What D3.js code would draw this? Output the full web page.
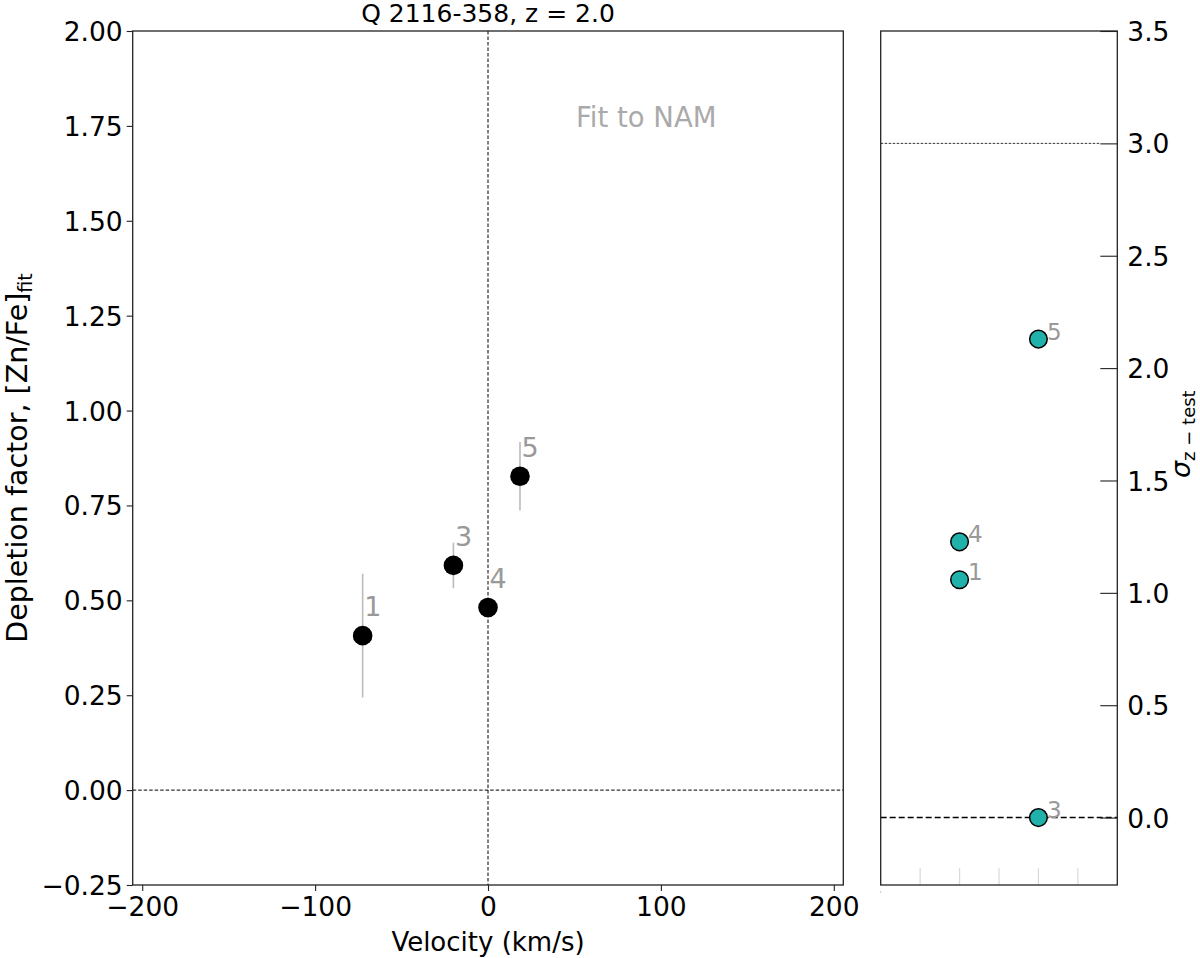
<!DOCTYPE html>
<html><head><meta charset="utf-8">
<script src="https://cdn.jsdelivr.net/npm/d3@7"></script>
<style>
body{margin:0;background:#fff;}
text{font-family:"DejaVu Sans",sans-serif;}
</style></head>
<body>
<svg id="c" width="1200" height="958"></svg>
<script>
// ---- data ----
const componentIds = ["1","3","4","5"];
const velocities = [-72.5, -20, 0, 18.5];
const depletion = [0.407, 0.592, 0.481, 0.827];
const depletionErr = [0.163, 0.06, 0, 0.09];
const sideX = [2, 4, 2, 4];
const sigmaZ = [1.058, 0.0, 1.227, 2.129];
const mainXTicks = [-200, -100, 0, 100, 200];
const mainYTicks = [-0.25, 0, 0.25, 0.5, 0.75, 1.0, 1.25, 1.5, 1.75, 2.0];
const sideYTicks = [0, 0.5, 1.0, 1.5, 2.0, 2.5, 3.0, 3.5];
const sideXTicks = [1, 2, 3, 4, 5];

const svg = d3.select("#c");
const M = {l:132.7, r:843.3, t:31, b:885};
const S = {l:880.7, r:1117.3, t:31, b:885};

const x = d3.scaleLinear().domain([-205.5, 205.5]).range([M.l, M.r]);
const y = d3.scaleLinear().domain([-0.25, 2.0]).range([M.b, M.t]);
const xs = d3.scaleLinear().domain([0, 6]).range([S.l, S.r]);
const ys = d3.scaleLinear().domain([-0.3, 3.5]).range([S.b, S.t]);

const tickFont = "26.5px";

// main reference lines
svg.append("line").attr("x1", x(0)).attr("x2", x(0)).attr("y1", M.t).attr("y2", M.b)
  .attr("stroke","#000").attr("stroke-width",1).attr("stroke-dasharray","3.5,2");
svg.append("line").attr("x1", M.l).attr("x2", M.r).attr("y1", y(0)).attr("y2", y(0))
  .attr("stroke","#000").attr("stroke-width",1).attr("stroke-dasharray","3.5,2");

// error bars
const idx = d3.range(componentIds.length);
svg.append("g").selectAll("line").data(idx.filter(i=>depletionErr[i]>0)).join("line")
  .attr("x1", i=>x(velocities[i])).attr("x2", i=>x(velocities[i]))
  .attr("y1", i=>y(depletion[i]-depletionErr[i])).attr("y2", i=>y(depletion[i]+depletionErr[i]))
  .attr("stroke","#bbbbbb").attr("stroke-width",1.6);
// points
svg.append("g").selectAll("circle").data(idx).join("circle")
  .attr("cx", i=>x(velocities[i])).attr("cy", i=>y(depletion[i])).attr("r", 9.8).attr("fill","#000");
// labels
svg.append("g").selectAll("text").data(idx).join("text")
  .attr("x", i=>x(velocities[i])+1.5).attr("y", i=>y(depletion[i])-19.5)
  .attr("fill","#999").style("font-size","27px").text(i=>componentIds[i]);

svg.append("text").attr("x", 576).attr("y", 126.5).attr("fill","#aaa").style("font-size","27.5px").text("Fit to NAM");

// main axes
const gx = svg.append("g").attr("transform",`translate(0,${M.b})`)
  .call(d3.axisBottom(x).tickValues(mainXTicks).tickSize(6).tickSizeOuter(0)
    .tickFormat(d=>d<0?"\u2212"+Math.abs(d):d));
const gy = svg.append("g").attr("transform",`translate(${M.l},0)`)
  .call(d3.axisLeft(y).tickValues(mainYTicks).tickSize(6).tickSizeOuter(0)
    .tickFormat(d=>(d<0?"\u2212":"")+Math.abs(d).toFixed(2)));
[gx,gy].forEach(g=>{
  g.select(".domain").remove();
  g.selectAll("line").attr("stroke","#222").attr("stroke-width",1.1);
  g.selectAll("text").style("font-size",tickFont).attr("fill","#000").style("font-family","DejaVu Sans");
});
gx.selectAll("text").attr("dy","0.95em").attr("y",6);
gy.selectAll("text").attr("x",-10).attr("dy","0.36em");
svg.append("rect").attr("x",M.l).attr("y",M.t).attr("width",M.r-M.l).attr("height",M.b-M.t)
  .attr("fill","none").attr("stroke","#222").attr("stroke-width",1.3);

// title & labels
svg.append("text").attr("x", x(0)).attr("y", 22).attr("text-anchor","middle").style("font-size","25px").text("Q 2116-358, z = 2.0");
svg.append("text").attr("x", x(0)).attr("y", 951).attr("text-anchor","middle").style("font-size","26px").text("Velocity (km/s)");
const yl = svg.append("text").attr("transform",`translate(27,${(M.t+M.b)/2}) rotate(-90)`).attr("text-anchor","middle").style("font-size","28.5px");
yl.append("tspan").text("Depletion factor, [Zn/Fe]");
yl.append("tspan").attr("dy",5).style("font-size","19px").text("fit");

// side panel
svg.append("line").attr("x1",S.l).attr("x2",S.r-17).attr("y1",ys(3)).attr("y2",ys(3))
  .attr("stroke","#000").attr("stroke-width",0.8).attr("stroke-dasharray","2.5,1.5");
svg.append("line").attr("x1",S.l).attr("x2",S.r).attr("y1",ys(0)).attr("y2",ys(0))
  .attr("stroke","#000").attr("stroke-width",1.5).attr("stroke-dasharray","6,3");
// light x ticks
svg.append("g").selectAll("line").data(sideXTicks).join("line")
  .attr("x1",d=>xs(d)).attr("x2",d=>xs(d)).attr("y1",S.b).attr("y2",S.b-17)
  .attr("stroke","#d9d9d9").attr("stroke-width",1.2);
svg.append("circle").attr("cx",S.l).attr("cy",S.b+7).attr("r",0.8).attr("fill","#bbb");

svg.append("g").selectAll("circle").data(idx).join("circle")
  .attr("cx",i=>xs(sideX[i])).attr("cy",i=>ys(sigmaZ[i])).attr("r",8.8)
  .attr("fill","#20b2aa").attr("stroke","#000").attr("stroke-width",1.5);
svg.append("g").selectAll("text").data(idx).join("text")
  .attr("x",i=>xs(sideX[i])+8.5).attr("y",i=>ys(sigmaZ[i])+0.5)
  .attr("fill","#999").style("font-size","23px").text(i=>componentIds[i]);

const gs = svg.append("g").attr("transform",`translate(${S.r},0)`)
  .call(d3.axisRight(ys).tickValues(sideYTicks).tickSize(0).tickFormat(d3.format(".1f")));
gs.select(".domain").remove();
gs.selectAll("text").style("font-size",tickFont).attr("fill","#000").attr("x",10).attr("dy","0.36em").style("font-family","DejaVu Sans");
gs.selectAll(".tick").append("line").attr("x1",-17).attr("x2",0).attr("stroke","#222").attr("stroke-width",1.1);
svg.append("rect").attr("x",S.l).attr("y",S.t).attr("width",S.r-S.l).attr("height",S.b-S.t)
  .attr("fill","none").attr("stroke","#222").attr("stroke-width",1.3);

const sl = svg.append("text").attr("transform",`translate(1190,478) rotate(-90)`).attr("text-anchor","start").style("font-size","27px");
sl.append("tspan").style("font-style","italic").text("\u03c3");
sl.append("tspan").attr("dy",5).style("font-size","18px").text("z \u2212 test");
</script>
</body></html>
